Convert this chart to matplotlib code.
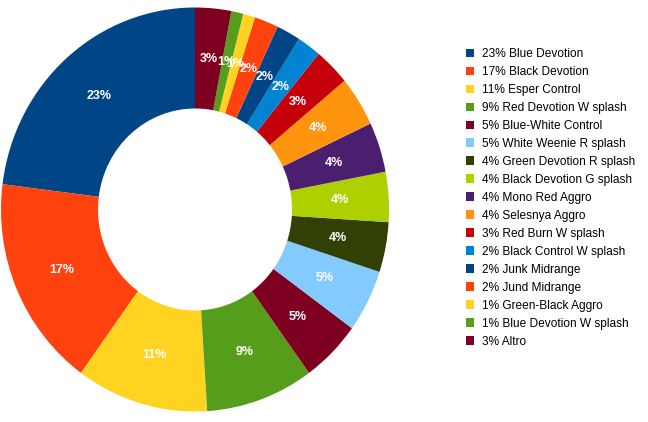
import matplotlib
matplotlib.use("Agg")
import matplotlib.pyplot as plt
from matplotlib.patches import Patch

categories = ["Blue Devotion", "Black Devotion", "Esper Control", "Red Devotion W splash",
              "Blue-White Control", "White Weenie R splash", "Green Devotion R splash",
              "Black Devotion G splash", "Mono Red Aggro", "Selesnya Aggro", "Red Burn W splash",
              "Black Control W splash", "Junk Midrange", "Jund Midrange", "Green-Black Aggro",
              "Blue Devotion W splash", "Altro"]
values = [23, 17, 11, 9, 5, 5, 4, 4, 4, 4, 3, 2, 2, 2, 1, 1, 3]
colors = ["#004586", "#ff420e", "#ffd320", "#579d1c", "#7e0021", "#83caff", "#314004",
          "#aecf00", "#4b1f6f", "#ff950e", "#c5000b", "#0084d1", "#004586", "#ff420e",
          "#ffd320", "#579d1c", "#7e0021"]

plt.rcParams['font.family'] = ['Liberation Sans', 'DejaVu Sans']

fig = plt.figure(figsize=(6.48, 4.22), dpi=100)
W, H = 648, 422
ax = fig.add_axes([1 / W, (H - 411.5) / H, 388 / W, 404 / H])

total = sum(values)
wedges, texts, autotexts = ax.pie(
    values, colors=colors, startangle=90, counterclock=True, radius=1.0,
    wedgeprops=dict(width=0.5, linewidth=0),
    autopct=lambda p: f"{p:.0f}%", pctdistance=0.75,
    textprops=dict(color="white", fontsize=9, fontweight="bold"))
ax.set_aspect('auto')
ax.set_xlim(-1, 1)
ax.set_ylim(-1, 1)
ax.axis('off')

labels = [f"{v / total * 100:.0f}% {c}" for v, c in zip(values, categories)]
handles = [Patch(facecolor=col, edgecolor='none') for col in colors]
fig.legend(handles, labels, loc='upper left', bbox_to_anchor=(466 / W, 1 - 48 / H),
           frameon=False, fontsize=8.6, handlelength=0.7, handleheight=0.7,
           handletextpad=0.6, labelspacing=0.5, borderaxespad=0, borderpad=0)

fig.savefig("out.png", dpi=100)
